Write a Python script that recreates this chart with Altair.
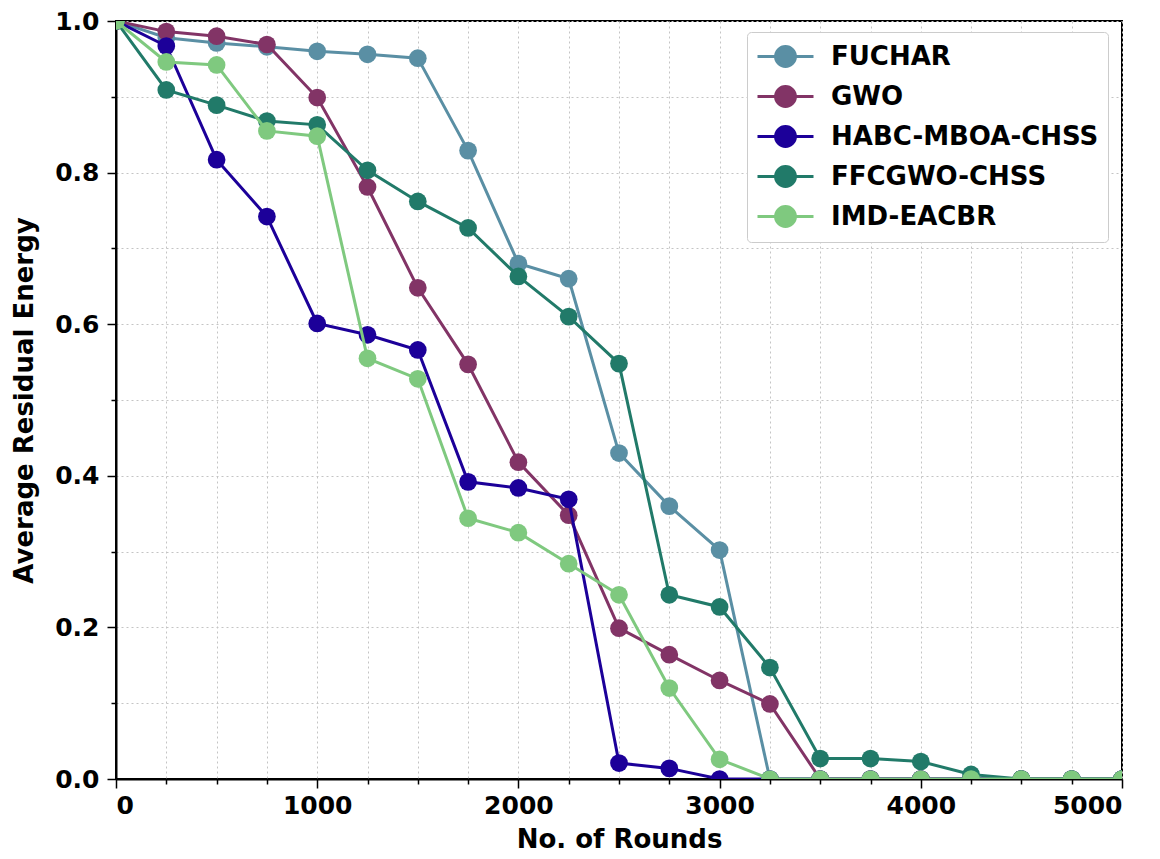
import altair as alt
import pandas as pd

rounds = [0, 250, 500, 750, 1000, 1250, 1500, 1750, 2000, 2250, 2500,
          2750, 3000, 3250, 3500, 3750, 4000, 4250, 4500, 4750, 5000]

fuchar = [1.0, 0.978, 0.971, 0.966, 0.960, 0.956, 0.951, 0.829, 0.680, 0.660, 0.430,
          0.360, 0.302, 0.0, 0.0, 0.0, 0.0, 0.0, 0.0, 0.0, 0.0]
gwo = [1.0, 0.986, 0.980, 0.969, 0.899, 0.781, 0.648, 0.547, 0.418, 0.348, 0.199,
       0.164, 0.130, 0.099, 0.0, 0.0, 0.0, 0.0, 0.0, 0.0, 0.0]
habc = [1.0, 0.967, 0.817, 0.742, 0.601, 0.586, 0.566, 0.392, 0.384, 0.369, 0.021,
        0.014, 0.0, 0.0, 0.0, 0.0, 0.0, 0.0, 0.0, 0.0, 0.0]
ffcgwo = [1.0, 0.909, 0.889, 0.868, 0.863, 0.803, 0.762, 0.727, 0.663, 0.610, 0.548,
          0.243, 0.227, 0.147, 0.027, 0.027, 0.023, 0.006, 0.0, 0.0, 0.0]
imd = [1.0, 0.946, 0.942, 0.855, 0.848, 0.555, 0.528, 0.344, 0.325, 0.284, 0.243,
       0.120, 0.026, 0.0, 0.0, 0.0, 0.0, 0.0, 0.0, 0.0, 0.0]

names = ["FUCHAR", "GWO", "HABC-MBOA-CHSS", "FFCGWO-CHSS", "IMD-EACBR"]
colors = ["#5a8fa4", "#823466", "#1c0099", "#217a69", "#7fc97f"]
series = [fuchar, gwo, habc, ffcgwo, imd]

rows = []
for i, (n, vals) in enumerate(zip(names, series)):
    for r, v in zip(rounds, vals):
        rows.append({"series": n, "order": i, "rounds": r, "energy": v})
df = pd.DataFrame(rows)

FONT = "DejaVu Sans"
FS = 25
TFS = 26

x_vals = list(range(0, 5001, 250))
y_vals = [round(i * 0.05, 2) for i in range(21)]

x_axis = alt.Axis(
    values=x_vals,
    labelExpr="datum.value % 1000 == 0 ? format(datum.value, 'd') : ''",
    labelOverlap=False,
    tickSize={"condition": {"test": "datum.value % 1000 == 0", "value": 9}, "value": 5},
    title="No. of Rounds",
    titlePadding=8,
    labelPadding=5,
)
y_axis = alt.Axis(
    values=y_vals,
    labelExpr="abs(datum.value*5 - round(datum.value*5)) < 0.001 ? format(datum.value, '.1f') : ''",
    labelOverlap=False,
    tickSize={"condition": {"test": "abs(datum.value*5 - round(datum.value*5)) < 0.001", "value": 9}, "value": 5},
    title="Average Residual Energy",
    titlePadding=17,
    labelPadding=8,
)

color = alt.Color(
    "series:N",
    scale=alt.Scale(domain=names, range=colors),
    legend=alt.Legend(
        title=None,
        orient="none",
        legendX=631,
        legendY=11,
        symbolType="M-1,0L3,0M1.71,0A0.71,0.71 0 1,1 0.29,0A0.71,0.71 0 1,1 1.71,0Z",
        symbolSize=784,
        symbolStrokeWidth=3,
        labelOffset=44,
        rowPadding=7,
    ),
)

base = alt.Chart(df)
layers = []
for n in names:
    b = base.transform_filter(alt.datum.series == n)
    layers.append(
        b.mark_line(strokeWidth=3, clip=True).encode(
            x=alt.X("rounds:Q", scale=alt.Scale(domain=[0, 5000], nice=False), axis=x_axis),
            y=alt.Y("energy:Q", scale=alt.Scale(domain=[0, 1.0], nice=False), axis=y_axis),
            color=color,
        )
    )
    layers.append(
        b.mark_circle(size=314, opacity=1, clip=True).encode(
            x="rounds:Q",
            y="energy:Q",
            color=color,
        )
    )

chart = alt.layer(*layers).properties(
    width=1006,
    height=758,
    padding={"left": 108, "top": 13, "right": 30, "bottom": 80},
    autosize=alt.AutoSizeParams(type="none"),
).configure_view(
    stroke="black", strokeWidth=2
).configure_axis(
    labelFont=FONT, labelFontSize=FS, labelFontWeight="bold", labelColor="black",
    titleFont=FONT, titleFontSize=TFS, titleFontWeight="bold", titleColor="black",
    domainColor="black", domainWidth=2, tickColor="black", tickWidth=1.5,
    gridColor="#c4c4c4", gridDash=[2, 3], gridWidth=1,
).configure_legend(
    labelFont=FONT, labelFontSize=26, labelFontWeight="bold", labelColor="black",
    strokeColor="#cccccc", fillColor="white", padding=9, cornerRadius=4,
    labelLimit=400,
)

chart.save("out.html", embed_options={"renderer": "svg", "actions": False})
